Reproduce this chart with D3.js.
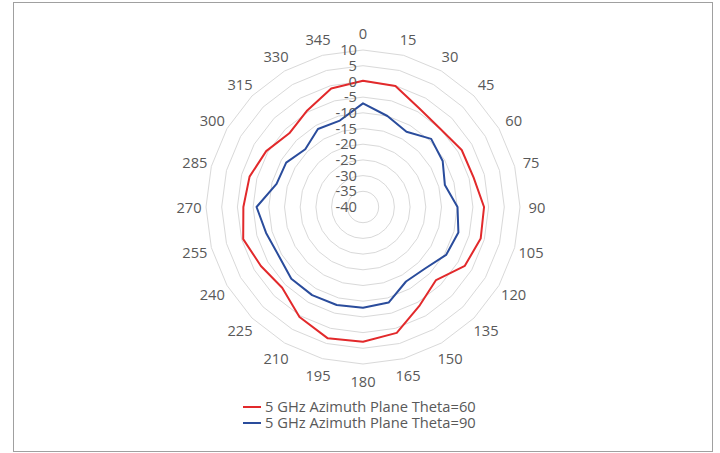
<!DOCTYPE html>
<html>
<head>
<meta charset="utf-8">
<script src="https://cdn.jsdelivr.net/npm/d3@7"></script>
<style>
  html, body { margin: 0; padding: 0; background: #fff; }
  svg { display: block; }
</style>
</head>
<body>
<div id="chart"></div>
<script>
const angles = [0, 15, 30, 45, 60, 75, 90, 105, 120, 135, 150, 165,
                180, 195, 210, 225, 240, 255, 270, 285, 300, 315, 330, 345];
const radialTicks = [-40, -35, -30, -25, -20, -15, -10, -5, 0, 5, 10];
const theta60 = [0.2, -0.1, -3.9, -5.0, -3.7, -3.55, -1.45, -1.2, -2.55, -7.1, -3.85, 1.5,
                 2.9, 3.3, 0.45, -3.6, -2.45, -0.5, -1.9, -2.6, -4.4, -6.8, -4.5, -0.9];
const theta90 = [-7.0, -10.0, -12.3, -9.3, -10.7, -13.0, -9.9, -8.55, -9.45, -12.2, -12.6, -8.5,
                 -7.9, -7.7, -7.6, -7.7, -9.0, -8.05, -6.1, -11.5, -11.75, -14.0, -11.3, -11.5];
const seriesNames = ['5 GHz Azimuth Plane Theta=60', '5 GHz Azimuth Plane Theta=90'];
const seriesColors = ['#e2292b', '#2a4c9c'];

const W = 720, H = 453;
const cx = 363, cy = 207, R = 157;
const font = '"Open Sans", "Noto Sans", sans-serif';
const fontSize = '14.7px';

const svg = d3.select('#chart').append('svg')
    .attr('width', W)
    .attr('height', H);

// frame
svg.append('rect')
    .attr('x', 13.5).attr('y', 2.5)
    .attr('width', 699).attr('height', 449)
    .attr('fill', '#fff')
    .attr('stroke', '#a0a0a0')
    .attr('stroke-width', 1);

const r = d3.scaleLinear().domain([-40, 10]).range([0, R]);
const ang = d3.scaleLinear().domain([0, 360]).range([0, 2 * Math.PI]);

const g = svg.append('g').attr('transform', `translate(${cx},${cy})`);

const radial = d3.lineRadial()
    .angle((d, i) => ang(angles[i]))
    .radius(d => r(d))
    .curve(d3.curveLinearClosed);

// grid rings (polygons)
g.append('g').selectAll('path')
    .data(radialTicks.slice(1))
    .enter()
    .append('path')
    .attr('d', v => radial(angles.map(() => v)))
    .attr('fill', 'none')
    .attr('stroke', '#d9d9d9')
    .attr('stroke-width', 1);

// series
const series = [theta60, theta90];
g.append('g').selectAll('path')
    .data(series)
    .enter()
    .append('path')
    .attr('d', d => radial(d))
    .attr('fill', 'none')
    .attr('stroke', (d, i) => seriesColors[i])
    .attr('stroke-width', 2)
    .attr('stroke-linejoin', 'round');

// radial value labels
g.append('g').selectAll('text')
    .data(radialTicks)
    .enter()
    .append('text')
    .attr('x', -6)
    .attr('y', v => -r(v))
    .attr('dy', '0.35em')
    .attr('text-anchor', 'end')
    .attr('font-family', font)
    .attr('font-size', fontSize)
    .attr('fill', '#595959')
    .text(v => v);

// angle labels
const labelR = R + 17;
g.append('g').selectAll('text')
    .data(angles)
    .enter()
    .append('text')
    .attr('x', a => labelR * Math.sin(ang(a)))
    .attr('y', a => -labelR * Math.cos(ang(a)) + 1)
    .attr('dy', '0.35em')
    .attr('text-anchor', 'middle')
    .attr('font-family', font)
    .attr('font-size', fontSize)
    .attr('fill', '#595959')
    .text(a => a);

// legend
const legend = svg.append('g').attr('transform', 'translate(243,407)');
const item = legend.selectAll('g')
    .data(seriesNames)
    .enter()
    .append('g')
    .attr('transform', (d, i) => `translate(0,${i * 16})`);
item.append('line')
    .attr('x1', 0).attr('x2', 18)
    .attr('y1', 0).attr('y2', 0)
    .attr('stroke', (d, i) => seriesColors[i])
    .attr('stroke-width', 2);
item.append('text')
    .attr('x', 22)
    .attr('y', 0)
    .attr('dy', '0.35em')
    .attr('font-family', font)
    .attr('font-size', fontSize)
    .attr('fill', '#595959')
    .text(d => d);
</script>
</body>
</html>
